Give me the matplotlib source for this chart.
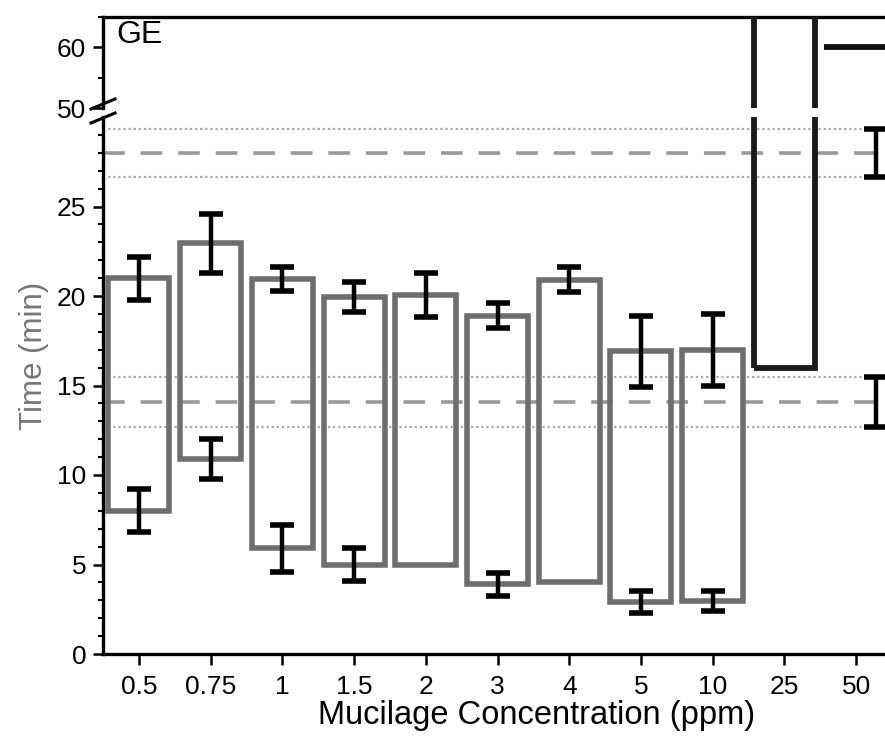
import numpy as np
import matplotlib
matplotlib.use("Agg")
import matplotlib.pyplot as plt
from matplotlib.ticker import FixedLocator

plt.rcParams['font.family'] = ['Liberation Sans', 'DejaVu Sans']

# ---------------- data ----------------
concentrations = ['0.5', '0.75', '1', '1.5', '2', '3', '4', '5', '10', '25', '50']
start_mean = [8.0, 10.9, 5.9, 5.0, 5.0, 3.9, 4.0, 2.9, 2.95, 16.0, np.nan]
start_err = [1.2, 1.1, 1.3, 0.93, np.nan, 0.65, np.nan, 0.6, 0.55, np.nan, np.nan]
end_mean = [21.0, 22.95, 20.95, 19.95, 20.05, 18.9, 20.9, 16.9, 17.0, 70.0, np.nan]
end_err = [1.2, 1.65, 0.65, 0.85, 1.25, 0.7, 0.7, 2.0, 2.0, np.nan, np.nan]

ref_mean = [28.0, 14.1]          # control reference times (dashed lines)
ref_err = [1.35, 1.4]            # +/- band (dotted lines)
ref_marker_value = 60.0          # solid line in upper panel
ref_marker_span = [9.55, 10.7]
ref_errbar_pos = 10.28

lower_major = [0, 5, 10, 15, 20, 25]
lower_minor = [v for v in range(1, 30) if v % 5 != 0]
upper_major = [50, 60]
upper_minor = [55, 65]

panel_label = 'GE'

# ---------------- figure ----------------
fig = plt.figure(figsize=(8.85, 7.45), dpi=100)
W, H = 885, 745
left = 103 / W
width = 789 / W
ax_lo = fig.add_axes([left, (H - 654) / H, width, (654 - 117) / H])
ax_hi = fig.add_axes([left, (H - 108) / H, width, (108 - 17) / H])

x = np.arange(len(concentrations))
s = np.array(start_mean)
e = np.array(end_mean)
valid = ~np.isnan(s)
box_colors = ['#6e6e6e'] * 9 + ['#1a1a1a', '#1a1a1a']
box_lw = [4.0] * 9 + [4.2, 4.2]

for ax in (ax_lo, ax_hi):
    for i in np.where(valid)[0]:
        ax.bar(x[i], e[i] - s[i], bottom=s[i], width=0.85, fill=False,
               edgecolor=box_colors[i], linewidth=box_lw[i], zorder=3)
    for m, er in zip(ref_mean, ref_err):
        ax.axhline(m, color='#9a9a9a', lw=2.6, dashes=(6.0, 4.4), zorder=1)
        ax.axhline(m + er, color='#a8a8a8', lw=1.6, dashes=(1.0, 1.3), zorder=1)
        ax.axhline(m - er, color='#a8a8a8', lw=1.6, dashes=(1.0, 1.3), zorder=1)
    ax.errorbar(x, s, yerr=start_err, fmt='none', ecolor='black',
                elinewidth=3.2, capsize=8.5, capthick=4, zorder=4)
    ax.errorbar(x, e, yerr=end_err, fmt='none', ecolor='black',
                elinewidth=3.2, capsize=8.5, capthick=4, zorder=4)
    ax.errorbar([ref_errbar_pos] * len(ref_mean), ref_mean, yerr=ref_err,
                fmt='none', ecolor='black', elinewidth=3.2, capsize=8.5,
                capthick=4, zorder=4)
    ax.set_xlim(-0.5, 10.5)
    ax.spines['right'].set_visible(False)
    for sp in ax.spines.values():
        sp.set_linewidth(2.4)
    ax.tick_params(axis='y', which='major', length=7, width=1.8, labelsize=19,
                   direction='out', pad=5)
    ax.tick_params(axis='y', which='minor', length=3.5, width=1.5,
                   direction='out')

ax_hi.hlines(ref_marker_value, ref_marker_span[0], ref_marker_span[1],
             color='#111111', lw=4.2, zorder=3)

# lower panel
ax_lo.set_ylim(0, 30)
ax_lo.yaxis.set_major_locator(FixedLocator(lower_major))
ax_lo.yaxis.set_minor_locator(FixedLocator(lower_minor))
ax_lo.spines['top'].set_visible(False)
ax_lo.set_xticks(x)
ax_lo.set_xticklabels(concentrations)
ax_lo.tick_params(axis='x', length=8, width=1.8, labelsize=19, pad=7)
ax_lo.set_xlabel('Mucilage Concentration (ppm)', fontsize=23.5)
ax_lo.xaxis.set_label_coords(0.549, -0.085)
ax_lo.set_ylabel('Time (min)', fontsize=22.5, color='#777777')
ax_lo.yaxis.set_label_coords(-0.068, 0.555)

# upper panel
ax_hi.set_ylim(50, 65)
ax_hi.yaxis.set_major_locator(FixedLocator(upper_major))
ax_hi.yaxis.set_minor_locator(FixedLocator(upper_minor))
ax_hi.spines['bottom'].set_visible(False)
ax_hi.tick_params(axis='x', which='both', bottom=False, labelbottom=False)
ax_hi.text(0.017, 0.80, panel_label, transform=ax_hi.transAxes,
           fontsize=23, va='center', ha='left')

# break marks on the left spine
d = 12 / W
dy = 10 / H
for yb in ((H - 104) / H, (H - 118) / H):
    fig.add_artist(plt.Line2D([left - d, left + d], [yb - dy / 2, yb + dy / 2],
                              transform=fig.transFigure, color='black', lw=2.2))

fig.savefig('out.png', dpi=100)
